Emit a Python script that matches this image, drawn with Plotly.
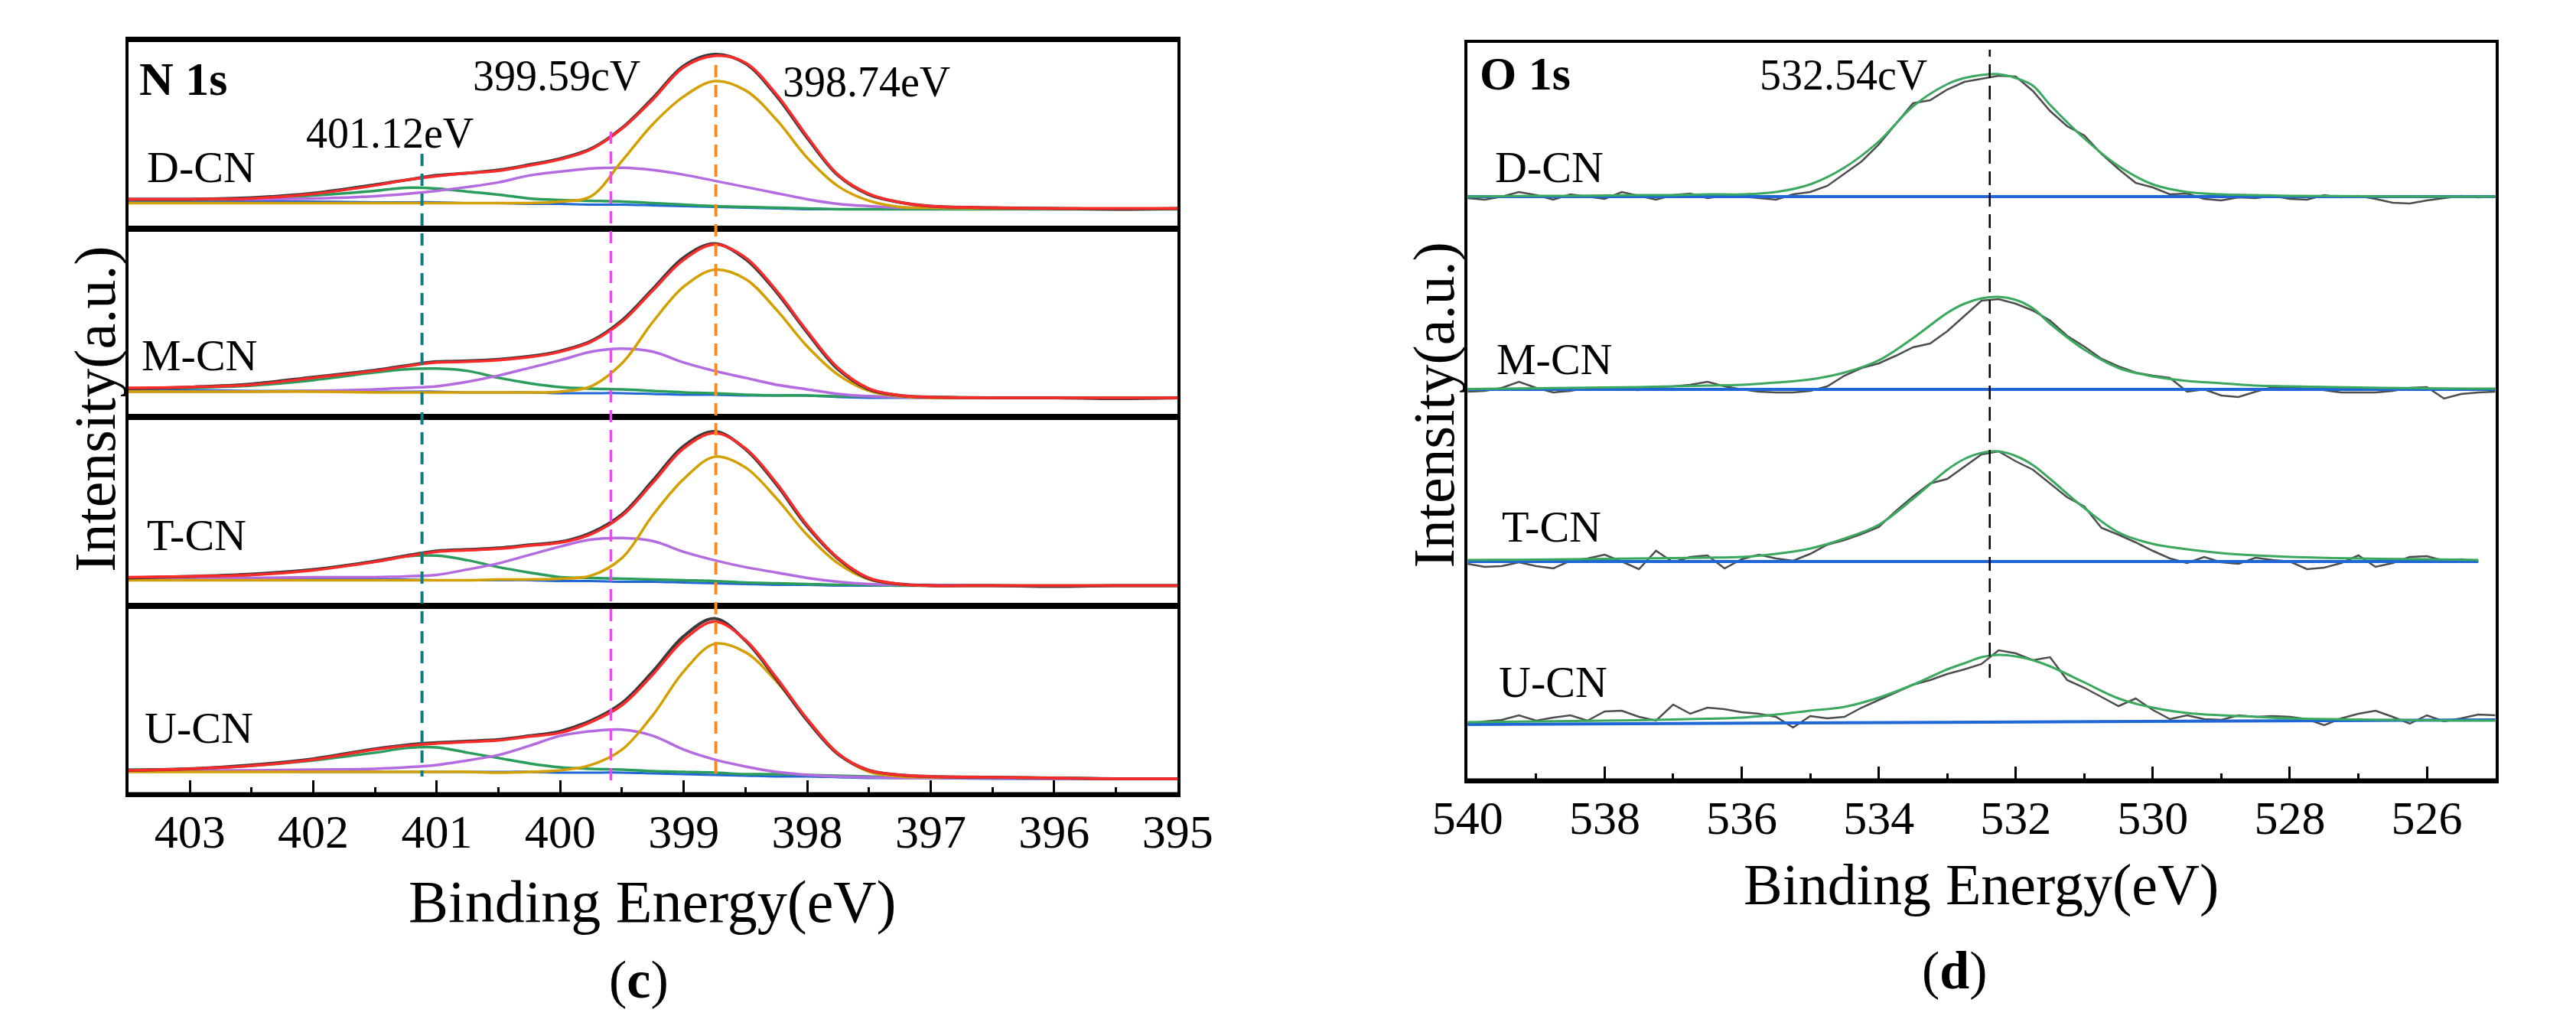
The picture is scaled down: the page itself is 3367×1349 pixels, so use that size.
import plotly.graph_objects as go

W, H = 3367, 1349
FONT = "Liberation Serif"

# ---------------- N 1s (panel c) ----------------
N_ENERGY = [403.5, 403.0, 402.5, 402.0, 401.5, 401.25, 401.0, 400.75, 400.5, 400.25, 400.0,
            399.75, 399.5, 399.25, 399.0, 398.75, 398.5, 398.25, 398.0, 397.75, 397.5,
            397.25, 397.0, 396.5, 396.0, 395.5, 395.0]
N_SAMPLES = ["D-CN", "M-CN", "T-CN", "U-CN"]
N_PEAKS = [401.12, 399.59, 398.74]
N_PEAK_LABELS = ["401.12eV", "399.59cV", "398.74eV"]
N_TICKS = [403, 402, 401, 400, 399, 398, 397, 396, 395]
N_MINOR = [402.5, 401.5, 400.5, 399.5, 398.5, 397.5, 396.5, 395.5]

D_N_RAW = [38, 38, 40, 46, 57, 63, 69, 72, 76, 83, 91, 104, 131, 170, 212, 227, 215, 173, 118, 69, 44, 34, 29, 27, 26, 25, 26]
D_N_ENV = [38, 38, 39, 45, 56, 63, 68, 72, 75, 82, 90, 103, 130, 168, 210, 225, 216, 175, 120, 70, 45, 34, 29, 27, 26, 26, 26]
D_N_P398 = [33, 33, 33, 33, 33, 33, 33, 33, 33, 33, 35, 42, 88, 136, 172, 192, 180, 142, 92, 55, 36, 28, 27, 26, 26, 26, 26]
D_N_P399 = [38, 38, 38, 39, 42, 45, 49, 54, 60, 69, 74, 78, 79, 76, 70, 62, 54, 46, 38, 32, 29, 27, 27, 26, 26, 26, 26]
D_N_P401 = [37, 37, 39, 43, 49, 53, 52, 48, 44, 39, 37, 36, 35, 33, 31, 29, 28, 27, 26, 25, 25, 25, 25, 25, 25, 25, 25]
D_N_BG = [36, 36, 35, 35, 34, 34, 34, 33, 33, 32, 32, 31, 31, 30, 29, 28, 27, 26, 25, 25, 25, 25, 25, 25, 25, 25, 25]

M_N_RAW = [37, 39, 43, 52, 61, 67, 72, 73, 75, 79, 86, 99, 126, 167, 208, 226, 206, 163, 110, 62, 36, 28, 26, 25, 25, 24, 25]
M_N_ENV = [38, 39, 42, 51, 60, 66, 71, 72, 74, 78, 85, 98, 124, 165, 205, 225, 208, 165, 112, 64, 37, 28, 26, 25, 25, 25, 25]
M_N_P398 = [33, 33, 33, 33, 32, 32, 32, 32, 32, 32, 33, 40, 70, 124, 170, 192, 180, 140, 92, 55, 34, 27, 25, 25, 25, 25, 25]
M_N_P399 = [33, 33, 33, 34, 36, 38, 40, 46, 54, 64, 74, 85, 89, 85, 71, 60, 51, 42, 36, 30, 27, 26, 25, 25, 25, 25, 25]
M_N_P401 = [37, 38, 41, 48, 58, 62, 63, 60, 51, 44, 39, 37, 36, 34, 32, 31, 29, 28, 28, 27, 27, 26, 26, 25, 25, 25, 25]
M_N_BG = [35, 35, 34, 34, 33, 33, 33, 32, 32, 32, 31, 31, 31, 30, 29, 29, 28, 28, 28, 26, 25, 25, 25, 25, 25, 25, 25]

T_N_RAW = [36, 38, 41, 47, 58, 65, 71, 73, 75, 79, 83, 95, 119, 163, 208, 227, 204, 158, 103, 61, 35, 28, 26, 26, 25, 26, 26]
T_N_ENV = [37, 38, 40, 46, 57, 64, 70, 72, 74, 78, 82, 93, 117, 160, 205, 225, 205, 160, 105, 62, 36, 28, 26, 26, 26, 26, 26]
T_N_P398 = [33, 33, 33, 33, 33, 33, 33, 33, 34, 34, 35, 39, 62, 118, 165, 194, 180, 140, 92, 55, 34, 28, 26, 26, 26, 26, 26]
T_N_P399 = [36, 36, 36, 37, 37, 38, 40, 47, 55, 66, 77, 86, 88, 84, 70, 59, 50, 43, 36, 31, 28, 27, 27, 26, 26, 26, 26]
T_N_P401 = [36, 37, 40, 47, 57, 64, 65, 59, 50, 43, 37, 36, 35, 34, 33, 32, 30, 29, 28, 27, 27, 26, 26, 26, 26, 26, 26]
T_N_BG = [35, 35, 35, 34, 34, 34, 33, 33, 33, 33, 32, 32, 31, 31, 30, 29, 28, 27, 27, 26, 26, 26, 26, 26, 26, 26, 26]

U_N_RAW = [31, 33, 38, 46, 59, 64, 67, 69, 71, 76, 82, 96, 119, 160, 206, 229, 200, 150, 96, 52, 31, 25, 23, 22, 21, 20, 20]
U_N_ENV = [31, 33, 37, 45, 58, 63, 66, 68, 70, 75, 80, 94, 116, 156, 201, 225, 201, 152, 98, 53, 31, 25, 23, 22, 21, 20, 20]
U_N_P398 = [29, 29, 29, 29, 29, 29, 29, 29, 28, 29, 31, 38, 58, 103, 160, 196, 185, 147, 98, 53, 29, 23, 22, 22, 21, 20, 20]
U_N_P399 = [31, 31, 31, 32, 33, 35, 38, 44, 51, 63, 76, 82, 84, 76, 58, 45, 36, 29, 25, 23, 22, 21, 21, 21, 20, 20, 20]
U_N_P401 = [32, 33, 37, 44, 54, 60, 61, 54, 47, 40, 35, 33, 32, 30, 29, 28, 26, 26, 25, 24, 23, 22, 22, 21, 21, 20, 20]
U_N_BG = [30, 30, 30, 29, 29, 29, 29, 29, 29, 29, 28, 28, 28, 27, 26, 25, 24, 23, 23, 22, 21, 21, 21, 20, 20, 20, 20]

# ---------------- O 1s (panel d) ----------------
O_ENERGY = [540.0, 539.75, 539.5, 539.25, 539.0, 538.75, 538.5, 538.25, 538.0, 537.75, 537.5,
            537.25, 537.0, 536.75, 536.5, 536.25, 536.0, 535.75, 535.5, 535.25, 535.0,
            534.75, 534.5, 534.25, 534.0, 533.75, 533.5, 533.25, 533.0, 532.75, 532.5,
            532.25, 532.0, 531.75, 531.5, 531.25, 531.0, 530.75, 530.5, 530.25, 530.0,
            529.75, 529.5, 529.25, 529.0, 528.75, 528.5, 528.25, 528.0, 527.75, 527.5,
            527.25, 527.0, 526.75, 526.5, 526.25, 526.0, 525.75, 525.5, 525.25, 525.0]
O_FIT_ENERGY = [540, 539.5, 539, 538.5, 538, 537.5, 537, 536.5, 536, 535.5, 535, 534.5, 534,
                533.5, 533, 532.75, 532.5, 532.25, 532, 531.75, 531.5, 531, 530.5, 530,
                529.5, 529, 528.5, 528, 527, 526, 525.25, 525]
O_OFFSETS = [763, 511, 286, 75]
O_PEAK = 532.38
O_PEAK_LABEL = "532.54cV"
O_TICKS = [540, 538, 536, 534, 532, 530, 528, 526]
O_MINOR = [539, 537, 535, 533, 531, 529, 527, 525]

D_O_RAW = [-2, -4, 0, 6, 2, -4, 3, 0, -3, 6, 1, -4, 2, 4, -2, 1, 0, -2, -4, 3, 6, 14, 30, 46, 68, 95,
           122, 126, 140, 150, 154, 158, 157, 138, 112, 92, 80, 56, 36, 18, 12, 3, 4, -3, -5, -1, -2,
           1, -3, -4, 2, -1, 1, -3, -8, -9, -5, -2, 1, -1, 0]
M_O_RAW = [-3, -2, 2, 10, 2, -4, -2, 2, 1, 0, -1, 3, 4, 6, 10, 4, 0, -3, -4, -4, -2, 4, 18, 28, 34, 44,
           55, 60, 76, 96, 116, 118, 112, 103, 90, 70, 56, 40, 30, 22, 18, 15, -3, 0, -8, -10, -3, 3,
           3, 1, -1, -4, -4, -4, -2, 2, 3, -12, -6, -4, -3]
T_O_RAW = [-3, -7, -6, -1, -6, -9, 1, 4, 9, 0, -10, 14, -1, 6, 8, -9, 3, 9, 4, 1, 10, 22, 28, 36, 45,
           66, 85, 102, 108, 124, 140, 144, 131, 120, 102, 84, 72, 44, 35, 25, 14, 4, -2, 6, -1, -3,
           5, 2, 0, -10, -8, -2, 8, -7, -2, 6, 7, 1, 3, 0, None]
U_O_RAW = [-1, 2, 4, 10, 3, 7, 10, 3, 15, 16, 8, 3, 24, 12, 20, 18, 14, 12, 8, -6, 9, 6, 8, 20, 30, 40,
           50, 56, 64, 70, 77, 95, 91, 82, 86, 56, 46, 34, 22, 32, 17, 5, 10, 5, 4, 10, 8, 9, 8, 5,
           -3, 6, 12, 16, 8, -1, 10, 2, 6, 11, 10]

D_O_FIT = [0, 0.5, 1, 1, 1.5, 2, 2, 3, 3, 6, 16, 38, 72, 118, 147, 155, 159, 160, 155, 145, 120, 76,
           40, 16, 6, 3, 2, 1, 0.5, 0, 0, 0]
M_O_FIT = [0.5, 1, 1.5, 2, 2.5, 3, 4, 5, 6, 9, 13, 22, 38, 67, 100, 112, 119, 121, 117, 106, 86, 52,
           28, 17, 11, 8, 5, 4, 2.5, 1.5, 1, 1]
T_O_FIT = [2, 2.2, 2.5, 3, 3.5, 4, 4.5, 5, 6, 10, 17, 30, 48, 82, 120, 134, 142, 144, 138, 126, 108,
           70, 38, 23, 16, 11, 8, 6, 4, 3, 2, None]
U_O_FIT = [1, 1.5, 2, 2.5, 3, 3.5, 4.5, 5.5, 7, 11, 16, 21, 33, 50, 70, 78, 86, 89, 87, 82, 74, 53,
           32, 20, 13, 10, 8, 6, 4.5, 3.5, 3, 3]
O_BG_ENERGY = [540.0, 525.25, 525.0]
D_O_BG = [0, 0, 0]
M_O_BG = [0, 0, 0]
T_O_BG = [0, 0, None]
U_O_BG = [-2, 4, 4]

# ---------------- styling ----------------
C_RAW = "#3a3a3a"
C_ENV = "#ff2a2a"
C_P398 = "#d4a000"
C_P399 = "#b46be0"
C_P401 = "#2a9d5c"
C_BG = "#1f66d6"
C_VLINES = ["#137c7c", "#ff3dff", "#ff8c1a"]
C_OFIT = "#3aa85e"
C_ORAW = "#4d4d4d"


def px(x):
    return x / W


def py(y):
    return 1 - y / H


# geometry (pixels)
L_X0, L_X1, L_Y0, L_Y1 = 124, 1535, 52, 1038
R_X0, R_X1, R_Y0, R_Y1 = 1925, 3307, 56, 1020

fig = go.Figure()

n_sets = [
    (D_N_RAW, D_N_ENV, D_N_P398, D_N_P399, D_N_P401, D_N_BG),
    (M_N_RAW, M_N_ENV, M_N_P398, M_N_P399, M_N_P401, M_N_BG),
    (T_N_RAW, T_N_ENV, T_N_P398, T_N_P399, T_N_P401, T_N_BG),
    (U_N_RAW, U_N_ENV, U_N_P398, U_N_P399, U_N_P401, U_N_BG),
]

for i, (raw, env, p398, p399, p401, bg) in enumerate(n_sets):
    xa = "x" if i == 0 else f"x{i+1}"
    ya = "y" if i == 0 else f"y{i+1}"
    for ys, col, w in [(bg, C_BG, 3), (p401, C_P401, 3.5), (p399, C_P399, 3.5),
                       (p398, C_P398, 3.5), (raw, C_RAW, 4), (env, C_ENV, 3.5)]:
        fig.add_trace(go.Scatter(x=N_ENERGY, y=ys, mode="lines", xaxis=xa, yaxis=ya,
                                 line=dict(color=col, width=w, shape="spline", smoothing=1.0),
                                 hoverinfo="skip"))

o_sets = [
    (D_O_RAW, D_O_FIT, D_O_BG),
    (M_O_RAW, M_O_FIT, M_O_BG),
    (T_O_RAW, T_O_FIT, T_O_BG),
    (U_O_RAW, U_O_FIT, U_O_BG),
]
for off, (raw, fit, bg) in zip(O_OFFSETS, o_sets):
    fig.add_trace(go.Scatter(x=O_ENERGY, y=[None if v is None else v + off for v in raw],
                             mode="lines", xaxis="x5", yaxis="y5",
                             line=dict(color=C_ORAW, width=2.5), hoverinfo="skip"))
    fig.add_trace(go.Scatter(x=O_BG_ENERGY, y=[None if v is None else v + off for v in bg],
                             mode="lines", xaxis="x5", yaxis="y5",
                             line=dict(color=C_BG, width=4), hoverinfo="skip"))
    fig.add_trace(go.Scatter(x=O_FIT_ENERGY, y=[None if v is None else v + off for v in fit],
                             mode="lines", xaxis="x5", yaxis="y5",
                             line=dict(color=C_OFIT, width=3, shape="spline", smoothing=1.0),
                             hoverinfo="skip"))

layout = dict(
    width=W, height=H, margin=dict(l=0, r=0, t=0, b=0),
    paper_bgcolor="white", plot_bgcolor="white", showlegend=False,
    font=dict(family=FONT, color="black"),
)

panel_h = (py(L_Y0) - py(L_Y1)) / 4
for i in range(4):
    top = py(L_Y0) - i * panel_h
    bot = top - panel_h
    xk = "xaxis" if i == 0 else f"xaxis{i+1}"
    yk = "yaxis" if i == 0 else f"yaxis{i+1}"
    ya = "y" if i == 0 else f"y{i+1}"
    xa = "x" if i == 0 else f"x{i+1}"
    xd = dict(domain=[px(L_X0), px(L_X1)], range=[403.5, 395], anchor=ya,
              showline=True, mirror=True, linecolor="black", linewidth=3.5,
              showgrid=False, zeroline=False)
    if i == 3:
        xd.update(tickmode="array", tickvals=N_TICKS, ticktext=[str(t) for t in N_TICKS],
                  ticks="inside", ticklen=18, tickwidth=3, tickcolor="black",
                  tickfont=dict(family=FONT, size=62, color="black"), ticklabelstandoff=-8,
                  minor=dict(tickvals=N_MINOR, ticks="inside", ticklen=9, tickwidth=3,
                             tickcolor="black"))
    else:
        xd.update(showticklabels=False, ticks="")
    layout[xk] = xd
    layout[yk] = dict(domain=[bot, top], range=[0, 246], anchor=xa,
                      showline=True, mirror=True, linecolor="black", linewidth=3.5,
                      showgrid=False, zeroline=False, showticklabels=False, ticks="")

layout["xaxis5"] = dict(domain=[px(R_X0), px(R_X1)], range=[540, 525], anchor="y5",
                        showline=True, mirror=True, linecolor="black", linewidth=3.5,
                        showgrid=False, zeroline=False,
                        tickmode="array", tickvals=O_TICKS, ticktext=[str(t) for t in O_TICKS],
                        ticks="inside", ticklen=18, tickwidth=3, tickcolor="black",
                        tickfont=dict(family=FONT, size=62, color="black"), ticklabelstandoff=-8,
                        minor=dict(tickvals=O_MINOR, ticks="inside", ticklen=9, tickwidth=3,
                                   tickcolor="black"))
layout["yaxis5"] = dict(domain=[py(R_Y1), py(R_Y0)], range=[0, R_Y1 - R_Y0], anchor="x5",
                        showline=True, mirror=True, linecolor="black", linewidth=3.5,
                        showgrid=False, zeroline=False, showticklabels=False, ticks="")

fig.update_layout(**layout)

# dashed reference lines
vline_tops = [201, 172, 85]
vline_bots = [1015, 1020, 1011]
vline_w = [4, 3.5, 4]
for e, col, t, b, w in zip(N_PEAKS, C_VLINES, vline_tops, vline_bots, vline_w):
    fig.add_shape(type="line", xref="x4", yref="paper", x0=e, x1=e, y0=py(t), y1=py(b),
                  line=dict(color=col, width=w, dash="16px,10px"))
fig.add_shape(type="line", xref="x5", yref="y5", x0=O_PEAK, x1=O_PEAK,
              y0=R_Y1 - 886, y1=R_Y1 - 65,
              line=dict(color="black", width=2.5, dash="18px,10px"))

# thicker outer borders
fig.add_shape(type="line", xref="paper", yref="paper", x0=px(L_X0 - 2), x1=px(L_X1 + 2),
              y0=py(L_Y0), y1=py(L_Y0), line=dict(color="black", width=6))
fig.add_shape(type="line", xref="paper", yref="paper", x0=px(L_X0 - 2), x1=px(L_X1 + 2),
              y0=py(L_Y1), y1=py(L_Y1), line=dict(color="black", width=5))
fig.add_shape(type="line", xref="paper", yref="paper", x0=px(R_X0 - 2), x1=px(R_X1 + 2),
              y0=py(R_Y1), y1=py(R_Y1), line=dict(color="black", width=5))


def ann(text, x, y, size, angle=0):
    fig.add_annotation(text=text, x=px(x), y=py(y), xref="paper", yref="paper",
                       xanchor="center", yanchor="middle", showarrow=False, textangle=angle,
                       font=dict(family=FONT, size=size, color="black"))


# panel c text
ann("<b>N 1s</b>", 198, 103, 62)
ann(N_PEAK_LABELS[0], 476, 174, 56)
ann(N_PEAK_LABELS[1], 700, 99, 56)
ann(N_PEAK_LABELS[2], 1117, 107, 56)
for name, (x, y) in zip(N_SAMPLES, [(222, 219), (220, 464), (216, 699), (219, 951)]):
    ann(name, x, y, 58)
ann("Binding Energy(eV)", 829, 1178, 78)
ann("(<b>c</b>)", 811, 1280, 70)
ann("Intensity(a.u.)", 79, 535, 76, -90)

# panel d text
ann("<b>O 1s</b>", 2002, 96, 62)
ann(O_PEAK_LABEL, 2430, 98, 56)
for name, (x, y) in zip(N_SAMPLES, [(2035, 219), (2041, 469), (2038, 688), (2040, 891)]):
    ann(name, x, y, 58)
ann("Binding Energy(eV)", 2616, 1156, 76)
ann("(<b>d</b>)", 2580, 1268, 70)
ann("Intensity(a.u.)", 1879, 530, 76, -90)

fig.write_html("out.html")
